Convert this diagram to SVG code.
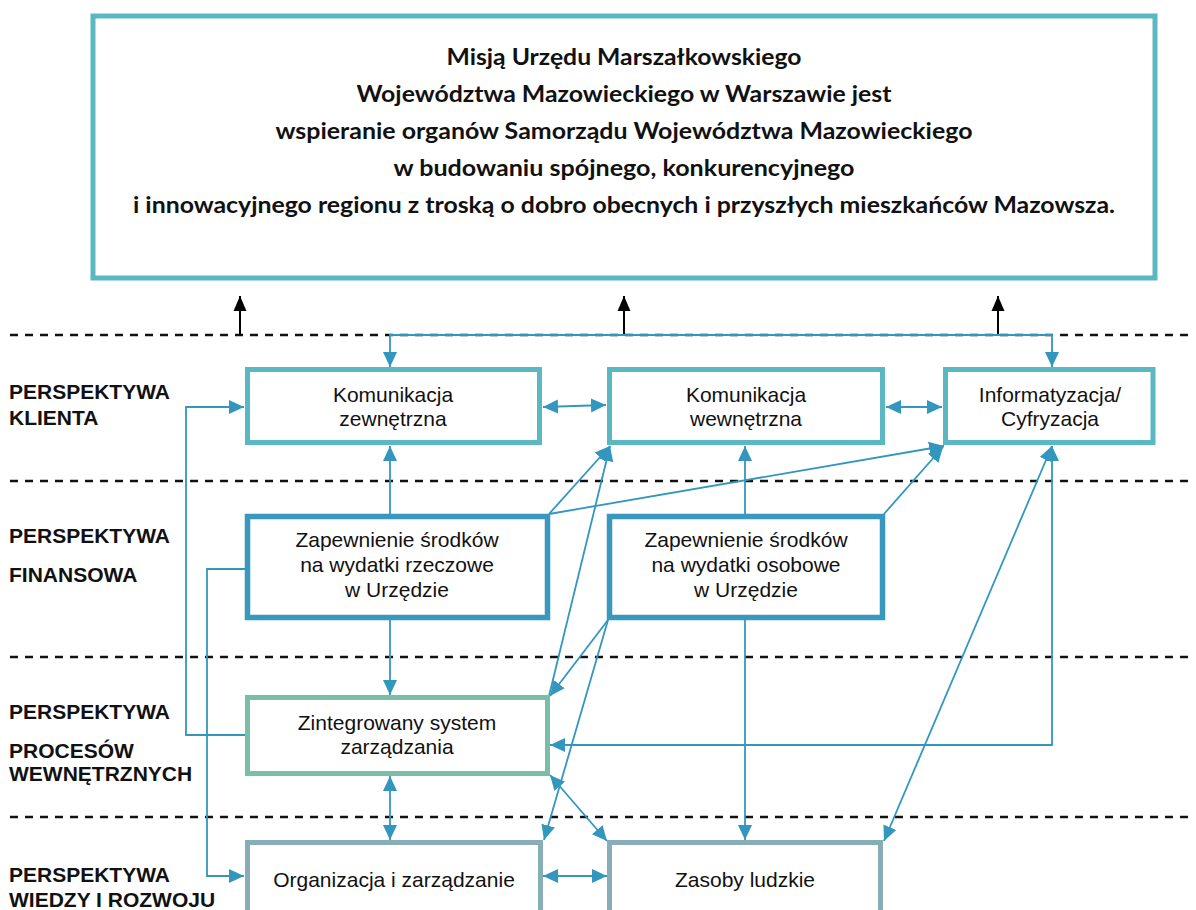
<svg xmlns="http://www.w3.org/2000/svg" width="1196" height="910" viewBox="0 0 1196 910">
<style>
.bg{fill:#ffffff}
.box{fill:#ffffff;stroke-width:5}
.teal{stroke:#5BB8C3}
.blue{stroke:#3A97BE;stroke-width:5.5}
.green{stroke:#79BEA6}
.grey{stroke:#88ADB7}
.mission{font-family:Lato,"Liberation Sans",sans-serif;font-weight:bold;font-size:22px;fill:#111;text-anchor:middle}
.t{font-family:"Liberation Sans",Arial,sans-serif;font-size:21px;fill:#111;text-anchor:middle}
.lab{font-family:"Liberation Sans",Arial,sans-serif;font-size:21px;font-weight:bold;fill:#111}
.dash{stroke:#111;stroke-width:2.5;stroke-dasharray:8 7;fill:none}
.c{stroke:#3396BF;stroke-width:1.8;fill:none}
.k{stroke:#000;stroke-width:2;fill:none}
</style>
<defs>
<marker id="a" markerUnits="userSpaceOnUse" markerWidth="16" markerHeight="16" viewBox="0 0 16 16" refX="15" refY="8" orient="auto-start-reverse">
<path d="M0,1 L15,8 L0,15 Z" fill="#3396BF"/>
</marker>
<marker id="b" markerUnits="userSpaceOnUse" markerWidth="16" markerHeight="16" viewBox="0 0 16 16" refX="15" refY="8" orient="auto">
<path d="M0,1.5 L15,8 L0,14.5 Z" fill="#000"/>
</marker>
</defs>
<rect class="bg" x="0" y="0" width="1196" height="910"/>

<g id="dashes">
<line class="dash" x1="10" y1="335" x2="1192" y2="335"/>
<line class="dash" x1="10" y1="481" x2="1192" y2="481"/>
<line class="dash" x1="10" y1="657" x2="1192" y2="657"/>
<line class="dash" x1="10" y1="817" x2="1192" y2="817"/>
</g>

<g id="labels">
<text class="lab" x="9" y="399">PERSPEKTYWA</text>
<text class="lab" x="9" y="425">KLIENTA</text>
<text class="lab" x="9" y="543">PERSPEKTYWA</text>
<text class="lab" x="9" y="582">FINANSOWA</text>
<text class="lab" x="9" y="719">PERSPEKTYWA</text>
<text class="lab" x="9" y="758">PROCESÓW</text>
<text class="lab" x="9" y="781">WEWNĘTRZNYCH</text>
<text class="lab" x="9" y="882">PERSPEKTYWA</text>
<text class="lab" x="9" y="907">WIEDZY I ROZWOJU</text>
</g>

<g id="connectors">
<path class="k" d="M240,335 L240,296" marker-end="url(#b)"/>
<path class="k" d="M624,335 L624,296" marker-end="url(#b)"/>
<path class="k" d="M998,335 L998,296" marker-end="url(#b)"/>
<path class="c" d="M390,367 L390,335 L1052,335 L1052,367" marker-start="url(#a)" marker-end="url(#a)"/>
<path class="c" d="M543,407 L606,405" marker-start="url(#a)" marker-end="url(#a)"/>
<path class="c" d="M886,407 L942,407" marker-start="url(#a)" marker-end="url(#a)"/>
<path class="c" d="M390,514 L390,446" marker-end="url(#a)"/>
<path class="c" d="M549,514 L610,446" marker-end="url(#a)"/>
<path class="c" d="M549,696 L610,446" marker-end="url(#a)"/>
<path class="c" d="M608,620 L550,696" marker-end="url(#a)"/>
<path class="c" d="M608,620 L544,840" marker-end="url(#a)"/>
<path class="c" d="M550,775 L607,841" marker-start="url(#a)" marker-end="url(#a)"/>
<path class="c" d="M390,776 L390,840" marker-start="url(#a)" marker-end="url(#a)"/>
<path class="c" d="M543,876 L607,876" marker-start="url(#a)" marker-end="url(#a)"/>
<path class="c" d="M390,620 L390,695" marker-end="url(#a)"/>
<path class="c" d="M549,514 L944,446" marker-end="url(#a)"/>
<path class="c" d="M884,514 L943,447" marker-end="url(#a)"/>
<path class="c" d="M745,514 L745,446" marker-end="url(#a)"/>
<path class="c" d="M745,620 L745,840" marker-end="url(#a)"/>
<path class="c" d="M1052,446 L884,841" marker-start="url(#a)" marker-end="url(#a)"/>
<path class="c" d="M550,745 L1052,745 L1052,446" marker-start="url(#a)" marker-end="url(#a)"/>
<path class="c" d="M245,735 L186,735 L186,407 L244,407" marker-end="url(#a)"/>
<path class="c" d="M245,569 L207,569 L207,876 L244,876" marker-end="url(#a)"/>
</g>

<g id="mission">
<rect class="box teal" x="93" y="16" width="1062" height="262"/>
<text class="mission" x="624" y="65" textLength="355" lengthAdjust="spacingAndGlyphs">Misją Urzędu Marszałkowskiego</text>
<text class="mission" x="624" y="102" textLength="535" lengthAdjust="spacingAndGlyphs">Województwa Mazowieckiego w Warszawie jest</text>
<text class="mission" x="624" y="139" textLength="697" lengthAdjust="spacingAndGlyphs">wspieranie organów Samorządu Województwa Mazowieckiego</text>
<text class="mission" x="624" y="176" textLength="461" lengthAdjust="spacingAndGlyphs">w budowaniu spójnego, konkurencyjnego</text>
<text class="mission" x="624" y="213" textLength="982" lengthAdjust="spacingAndGlyphs">i innowacyjnego regionu z troską o dobro obecnych i przyszłych mieszkańców Mazowsza.</text>
</g>

<g id="kom-zew">
<rect class="box teal" x="247.5" y="369.5" width="292" height="73"/>
<text class="t" x="393" y="402">Komunikacja</text>
<text class="t" x="393" y="426">zewnętrzna</text>
</g>
<g id="kom-wew">
<rect class="box teal" x="609.5" y="369.5" width="273" height="73"/>
<text class="t" x="746" y="402">Komunikacja</text>
<text class="t" x="746" y="426">wewnętrzna</text>
</g>
<g id="informatyzacja">
<rect class="box teal" x="945.5" y="369.5" width="207.5" height="73"/>
<text class="t" x="1050" y="402">Informatyzacja/</text>
<text class="t" x="1050" y="426">Cyfryzacja</text>
</g>
<g id="zap-rzeczowe">
<rect class="box blue" x="247.5" y="516.5" width="300" height="101"/>
<text class="t" x="397" y="547">Zapewnienie środków</text>
<text class="t" x="397" y="572">na wydatki rzeczowe</text>
<text class="t" x="397" y="597">w Urzędzie</text>
</g>
<g id="zap-osobowe">
<rect class="box blue" x="609.5" y="516.5" width="273" height="101"/>
<text class="t" x="746" y="547">Zapewnienie środków</text>
<text class="t" x="746" y="572">na wydatki osobowe</text>
<text class="t" x="746" y="597">w Urzędzie</text>
</g>
<g id="zintegrowany">
<rect class="box green" x="247.5" y="697.5" width="300" height="76"/>
<text class="t" x="397" y="730">Zintegrowany system</text>
<text class="t" x="397" y="754">zarządzania</text>
</g>
<g id="organizacja">
<rect class="box grey" x="247.5" y="842.5" width="293" height="90"/>
<text class="t" x="394" y="887">Organizacja i zarządzanie</text>
</g>
<g id="zasoby">
<rect class="box grey" x="609.5" y="842.5" width="271" height="90"/>
<text class="t" x="745" y="887">Zasoby ludzkie</text>
</g>
</svg>
